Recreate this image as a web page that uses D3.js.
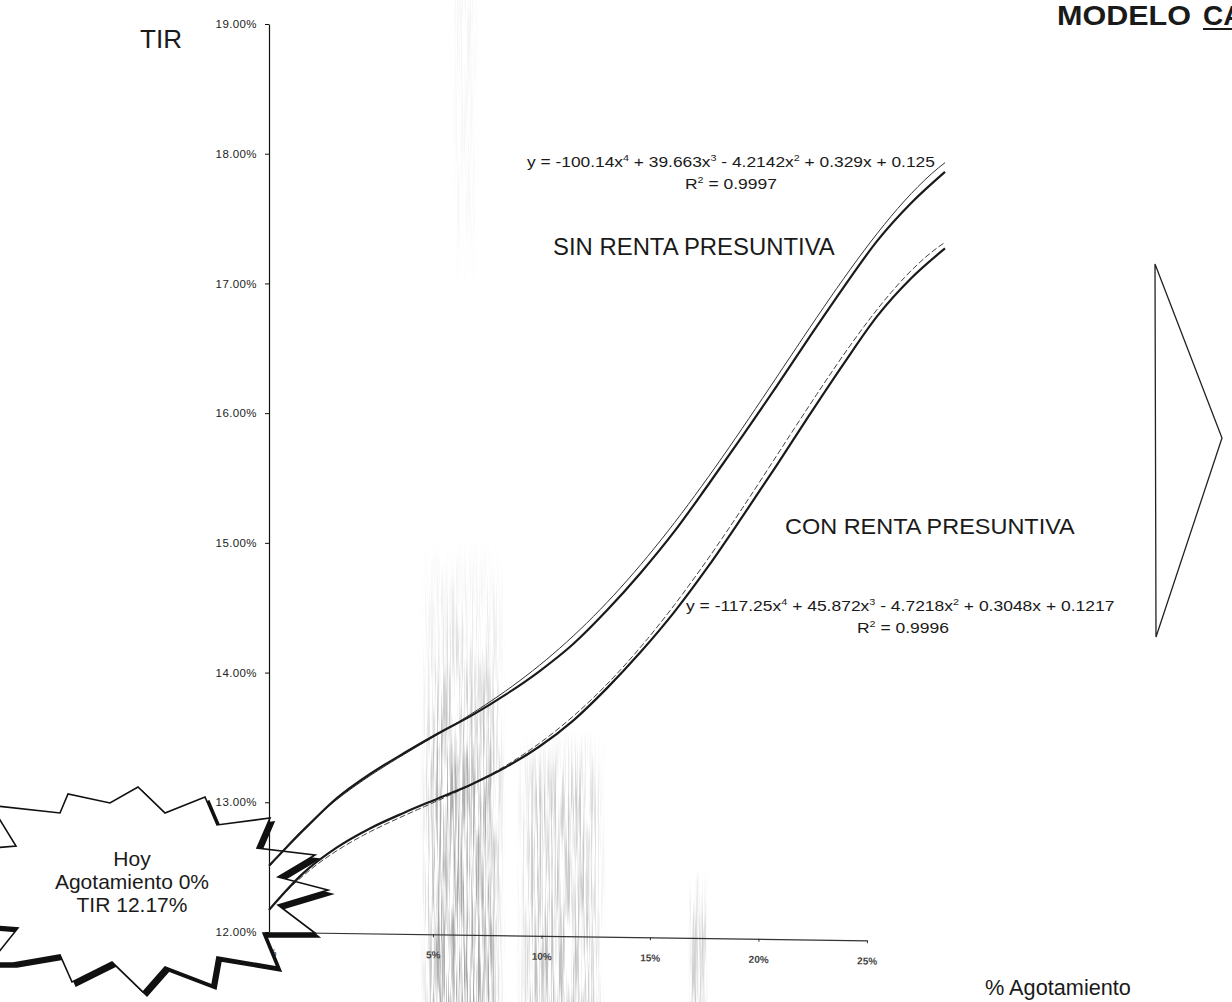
<!DOCTYPE html>
<html>
<head>
<meta charset="utf-8">
<script src="https://cdn.jsdelivr.net/npm/d3@7"></script>
<style>
  html, body { margin: 0; padding: 0; background: #fff; }
  svg { display: block; font-family: "Liberation Sans", Arial, sans-serif; }
</style>
</head>
<body>
<svg id="chart" width="1232" height="1002"></svg>
<script>
// Reserve depletion levels (share of reserves) at which the IRR was computed
const agotamiento = [0.00, 0.01, 0.02, 0.03, 0.04, 0.05, 0.06, 0.07, 0.08, 0.09, 0.10,
                     0.11, 0.12, 0.13, 0.14, 0.15, 0.16, 0.17, 0.18, 0.19, 0.20];
// IRR without presumptive income tax
const tirSinRenta = [0.1251, 0.1278, 0.1303, 0.1322, 0.1338, 0.1353, 0.1367, 0.1383, 0.1401, 0.1422, 0.1448,
                     0.1477, 0.1509, 0.1545, 0.1582, 0.1620, 0.1659, 0.1697, 0.1733, 0.1762, 0.1786];
// IRR with presumptive income tax
const tirConRenta = [0.1217, 0.1245, 0.1265, 0.1280, 0.1292, 0.1303, 0.1314, 0.1327, 0.1343, 0.1363, 0.1388,
                     0.1416, 0.1447, 0.1482, 0.1520, 0.1559, 0.1599, 0.1638, 0.1675, 0.1704, 0.1727];
// 4th-order polynomial trendlines (x^4 ... x^0) and their R²
const coefSin = [-100.14, 39.663, -4.2142, 0.329, 0.125];
const coefCon = [-117.25, 45.872, -4.7218, 0.3048, 0.1217];
const r2Sin = 0.9997;
const r2Con = 0.9996;
// Axis ticks
const yTicks = [0.12, 0.13, 0.14, 0.15, 0.16, 0.17, 0.18, 0.19];
const xTicks = [0, 0.05, 0.10, 0.15, 0.20, 0.25];
// Today's situation
const hoyAgotamiento = agotamiento[0];
const hoyTir = tirConRenta[0];

const svg = d3.select("#chart");
const defs = svg.append("defs");

// ---------- scales ----------
const x = d3.scaleLinear().domain([0, 0.20]).range([269, 945]);
const xAxisScale = d3.scaleLinear().domain([0, 0.05, 0.25]).range([269, 433, 867]);
const y = d3.scaleLinear().domain([0.12, 0.19]).range([932, 24]);

// ---------- photocopy streaks ----------
const grain = defs.append("filter").attr("id", "grain")
  .attr("x", 0).attr("y", 0).attr("width", 1).attr("height", 1)
  .attr("color-interpolation-filters", "sRGB");
grain.append("feTurbulence").attr("type", "fractalNoise")
  .attr("baseFrequency", "0.6 0.012").attr("numOctaves", 3).attr("seed", 11).attr("result", "noise");
grain.append("feColorMatrix").attr("in", "noise").attr("type", "matrix")
  .attr("values", "0 0 0 0 0.5  0 0 0 0 0.5  0 0 0 0 0.5  3.0 0 0 0 -1.15")
  .attr("result", "streaks");
grain.append("feComposite").attr("in", "streaks").attr("in2", "SourceGraphic").attr("operator", "in");

function fade(id, stops) {
  const g = defs.append("linearGradient").attr("id", id)
    .attr("x1", 0).attr("y1", 0).attr("x2", 0).attr("y2", 1);
  stops.forEach(([o, a]) => g.append("stop").attr("offset", o).attr("stop-color", "#000").attr("stop-opacity", a));
}
fade("fadeA", [[0, 0], [0.3, 0.45], [0.5, 0.9], [1, 1]]);
fade("fadeB", [[0, 0], [0.25, 0.8], [1, 1]]);
fade("fadeTop", [[0, 0.25], [0.7, 0.15], [1, 0]]);

// soft left/right edges for every streak band
const soft = defs.append("linearGradient").attr("id", "softX").attr("x1", 0).attr("x2", 1).attr("y1", 0).attr("y2", 0);
[[0, 0], [0.2, 1], [0.8, 1], [1, 0]].forEach(([o, a]) =>
  soft.append("stop").attr("offset", o).attr("stop-color", "#fff").attr("stop-opacity", a));
defs.append("mask").attr("id", "softMask").attr("maskContentUnits", "objectBoundingBox")
  .append("rect").attr("width", 1).attr("height", 1).attr("fill", "url(#softX)");

const haze = svg.append("g");
[
  { x: 420, y: 540, w: 86, h: 462, f: "fadeA", o: 0.7 },
  { x: 516, y: 730, w: 90, h: 272, f: "fadeB", o: 0.5 },
  { x: 688, y: 870, w: 20, h: 132, f: "fadeB", o: 0.4 },
  { x: 452, y: 0, w: 26, h: 300, f: "fadeTop", o: 0.35 }
].forEach(b => {
  haze.append("g").attr("mask", "url(#softMask)")
    .append("rect").attr("x", b.x).attr("y", b.y).attr("width", b.w).attr("height", b.h)
    .attr("fill", `url(#${b.f})`).attr("filter", "url(#grain)").attr("opacity", b.o);
});

// ---------- x axis (drawn beneath the callout) ----------
const xAxisG = svg.append("g")
  .attr("transform", `translate(0,${y(0.12)}) rotate(0.8, ${xAxisScale(0)}, 0)`)
  .call(d3.axisBottom(xAxisScale).tickValues(xTicks).tickFormat(d3.format(".0%"))
    .tickSize(3).tickSizeOuter(0).tickPadding(14));
xAxisG.select(".domain").attr("stroke", "#333").attr("stroke-width", 1.1);
xAxisG.selectAll(".tick line").attr("stroke", "#333");
xAxisG.selectAll(".tick text").attr("font-size", 10).attr("fill", "#444")
  .attr("font-family", "Liberation Sans, Arial, sans-serif").attr("font-weight", "bold");

// ---------- "Hoy" starburst callout ----------
const starPts = [
  [-30, 803], [60, 813], [68, 794], [110, 803], [138, 787], [165, 813], [205, 797], [217, 825],
  [270, 818], [257, 848], [315, 855], [278, 877], [328, 890], [278, 905], [315, 933], [263, 933],
  [277, 967], [217, 957], [212, 985], [165, 967], [143, 992], [112, 962], [72, 982], [60, 955],
  [13, 963], [-10, 963], [18, 928], [-30, 924], [-30, 850], [16, 846], [-5, 812]
];
const starLine = d3.line().curve(d3.curveLinearClosed);
svg.append("path").attr("d", starLine(starPts)).attr("transform", "translate(4,4)")
  .attr("fill", "#111").attr("stroke", "#111").attr("stroke-width", 1.5);
svg.append("path").attr("d", starLine(starPts))
  .attr("fill", "#fff").attr("stroke", "#111").attr("stroke-width", 1.6).attr("stroke-linejoin", "miter");

const pct2 = d3.format(".2%");
const starText = svg.append("g").attr("fill", "#1a1a1a").attr("font-size", 21).attr("text-anchor", "middle");
starText.append("text").attr("x", 132).attr("y", 866).text("Hoy");
starText.append("text").attr("x", 132).attr("y", 889).text(`Agotamiento ${d3.format(".0%")(hoyAgotamiento)}`);
starText.append("text").attr("x", 132).attr("y", 912).text(`TIR ${pct2(hoyTir)}`);

// ---------- y axis ----------
const yAxisG = svg.append("g").attr("transform", `translate(${x(0)},0)`)
  .call(d3.axisLeft(y).tickValues(yTicks).tickFormat(pct2).tickSize(4).tickSizeOuter(0).tickPadding(8));
yAxisG.select(".domain").attr("stroke", "#111").attr("stroke-width", 1.2);
yAxisG.selectAll(".tick line").attr("stroke", "#111");
yAxisG.selectAll(".tick text").attr("font-size", 11.5).attr("fill", "#222")
  .attr("letter-spacing", 0.4).attr("font-family", "Liberation Sans, Arial, sans-serif");

// ---------- series and trendlines ----------
const poly = c => t => c.reduce((acc, k) => acc * t + k, 0);
const trendX = d3.range(0, 0.2001, 0.002);
const lineData = d3.line().x(d => x(d[0])).y(d => y(d[1])).curve(d3.curveMonotoneX);
const lineTrend = d3.line().x(d => x(d[0])).y(d => y(d[1]));

const plot = svg.append("g").attr("fill", "none");
plot.append("path").attr("d", lineTrend(trendX.map(t => [t, poly(coefSin)(t)])))
  .attr("stroke", "#333").attr("stroke-width", 1);
plot.append("path").attr("d", lineTrend(trendX.map(t => [t, poly(coefCon)(t)])))
  .attr("stroke", "#444").attr("stroke-width", 1).attr("stroke-dasharray", "6,2.5");
plot.append("path").attr("d", lineData(agotamiento.map((a, i) => [a, tirSinRenta[i]])))
  .attr("stroke", "#1a1a1a").attr("stroke-width", 2.2).attr("stroke-linejoin", "round");
plot.append("path").attr("d", lineData(agotamiento.map((a, i) => [a, tirConRenta[i]])))
  .attr("stroke", "#1a1a1a").attr("stroke-width", 2.2).attr("stroke-linejoin", "round");

// ---------- text helpers ----------
// Places a text element so it spans [x0, x0 + width] on the given baseline.
function fit(sel, x0, baseline, width) {
  const w = sel.node().getComputedTextLength();
  sel.attr("x", 0).attr("y", 0)
     .attr("transform", `translate(${x0},${baseline}) scale(${width / w},1)`);
  return sel;
}
// Builds the trendline equation as text runs with superscript exponents.
function equation(coef) {
  const parts = [];
  coef.forEach((c, i) => {
    const p = coef.length - 1 - i;
    const mag = String(Math.abs(c));
    const sign = i === 0 ? (c < 0 ? "y = -" : "y = ") : (c < 0 ? " - " : " + ");
    parts.push({ t: sign + mag + (p > 0 ? "x" : "") });
    if (p > 1) parts.push({ t: String(p), sup: true });
  });
  return parts;
}
function richText(g, parts, size) {
  const t = g.append("text").attr("font-size", size).attr("fill", "#1a1a1a");
  let up = false;
  parts.forEach(p => {
    const s = t.append("tspan").text(p.t);
    if (p.sup) { s.attr("font-size", size * 0.62).attr("dy", -size * 0.42); up = true; }
    else if (up) { s.attr("dy", size * 0.42); up = false; }
  });
  return t;
}

const ann = svg.append("g");
fit(richText(ann, equation(coefSin), 15), 527, 167, 408);
fit(richText(ann, [{ t: "R" }, { t: "2", sup: true }, { t: " = " + r2Sin }], 15), 685, 189, 92);
fit(richText(ann, equation(coefCon), 15), 686, 611, 429);
fit(richText(ann, [{ t: "R" }, { t: "2", sup: true }, { t: " = " + r2Con }], 15), 857, 633, 92);

fit(ann.append("text").attr("font-size", 23).attr("fill", "#1a1a1a").text("SIN RENTA PRESUNTIVA"), 553, 255, 282);
fit(ann.append("text").attr("font-size", 23).attr("fill", "#1a1a1a").text("CON RENTA PRESUNTIVA"), 785, 534, 290);

fit(ann.append("text").attr("font-size", 26).attr("fill", "#1a1a1a").text("TIR"), 140, 48, 42);
fit(ann.append("text").attr("font-size", 22).attr("fill", "#1a1a1a").text("% Agotamiento"), 985, 995, 146);

// Title (runs off the right edge)
fit(ann.append("text").attr("font-size", 28).attr("font-weight", "bold").attr("fill", "#1a1a1a")
  .text("MODELO"), 1057, 25, 134);
ann.append("text").attr("x", 1203).attr("y", 25).attr("font-size", 28).attr("font-weight", "bold")
  .attr("fill", "#1a1a1a").text("CA");
ann.append("line").attr("x1", 1203).attr("x2", 1232).attr("y1", 29).attr("y2", 29)
  .attr("stroke", "#1a1a1a").attr("stroke-width", 2);

// Right-pointing triangle
svg.append("path")
  .attr("d", d3.line()([[1155, 264], [1222, 438], [1156, 637]]) + "Z")
  .attr("fill", "none").attr("stroke", "#222").attr("stroke-width", 1.3).attr("stroke-linejoin", "miter");
</script>
</body>
</html>
